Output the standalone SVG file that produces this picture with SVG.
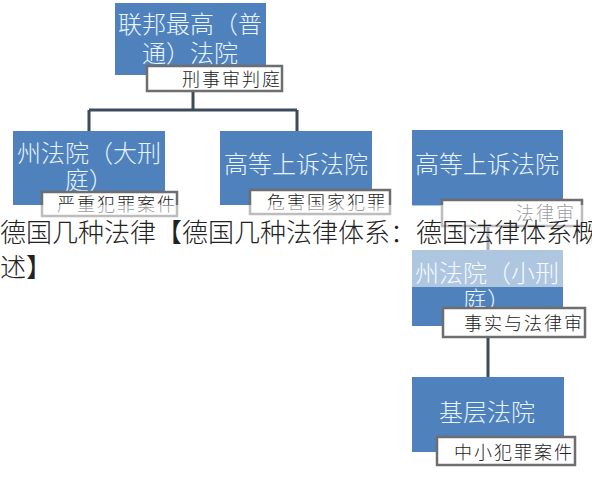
<svg xmlns="http://www.w3.org/2000/svg" width="592" height="481" viewBox="0 0 592 481">
<style>
.node{fill:#4f81bd;}
.nt{font-family:"Noto Sans CJK SC","Noto Sans",sans-serif;font-size:24px;font-weight:300;fill:#e8f5ff;text-anchor:middle;dominant-baseline:central;}
.lb{fill:#ffffff;stroke:#6e6e6e;stroke-width:2.5;}
.lt{font-family:"Noto Sans CJK SC","Noto Sans",sans-serif;font-size:18px;font-weight:300;fill:#222;text-anchor:end;dominant-baseline:central;letter-spacing:2px;}
.conn{fill:none;stroke:#3d4a5a;stroke-width:3;}
.cap{font-family:"Noto Sans CJK SC","Noto Sans",sans-serif;font-size:26px;font-weight:300;fill:#222;dominant-baseline:central;}
</style>
<rect width="592" height="481" fill="#ffffff"/>
<g id="connectors">
<path class="conn" d="M193 91V110M89 110H297M89 110V131M297 110V131"/>
<path class="conn" d="M488 226V250M488 337V377"/>
</g>
<g id="node-federal">
<rect class="node" x="115" y="3" width="151" height="72"/>
<text class="nt" x="190" y="22">联邦最高（普</text>
<text class="nt" x="190" y="51">通）法院</text>
<rect class="lb" x="147" y="66" width="135" height="25"/>
<text class="lt" x="282" y="78">刑事审判庭</text>
</g>
<g id="node-state-large">
<rect class="node" x="13" y="131" width="152" height="74"/>
<text class="nt" x="89" y="151">州法院（大刑</text>
<text class="nt" x="89" y="178">庭）</text>
<rect class="lb" x="42" y="192" width="135" height="24"/>
<text class="lt" x="177" y="203">严重犯罪案件</text>
</g>
<g id="node-higher-1">
<rect class="node" x="220" y="131" width="152" height="74"/>
<text class="nt" x="296" y="162">高等上诉法院</text>
<rect class="lb" x="250" y="190" width="140" height="24"/>
<text class="lt" x="387" y="201">危害国家犯罪</text>
</g>
<g id="node-higher-2">
<rect class="node" x="412" y="130" width="151" height="76"/>
<text class="nt" x="487" y="162">高等上诉法院</text>
<rect class="lb" x="442" y="200" width="140" height="26"/>
<text class="lt" x="576" y="212">法律审</text>
</g>
<g id="node-state-small">
<rect class="node" x="412" y="250" width="151" height="76"/>
<text class="nt" x="487" y="271">州法院（小刑</text>
<text class="nt" x="487" y="298">庭）</text>
<rect class="lb" x="443" y="308" width="142" height="29"/>
<text class="lt" x="584" y="322">事实与法律审</text>
</g>
<g id="node-local">
<rect class="node" x="412" y="377" width="152" height="75"/>
<text class="nt" x="487" y="410">基层法院</text>
<rect class="lb" x="437" y="437" width="138" height="28"/>
<text class="lt" x="574" y="451">中小犯罪案件</text>
</g>
<g id="caption">
<rect x="0" y="205" width="592" height="82" fill="#ffffff" opacity="0.55"/>
<text class="cap" x="0" y="230">德国几种法律【德国几种法律体系：德国法律体系概</text>
<text class="cap" x="0" y="265">述】</text>
</g>
</svg>
